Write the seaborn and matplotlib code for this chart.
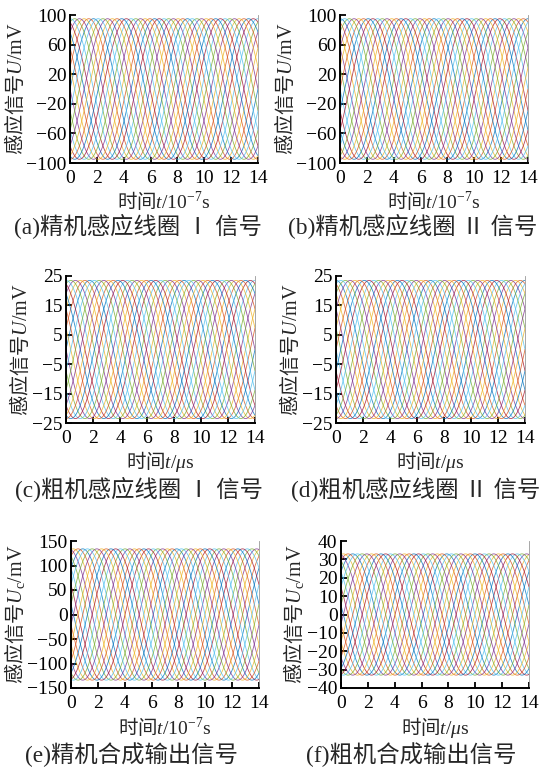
import numpy as np
import pandas as pd
import matplotlib
matplotlib.use("Agg")
import matplotlib.pyplot as plt
import seaborn as sns

# ---------------- data ----------------
time_ticks = [0, 2, 4, 6, 8, 10, 12, 14]
period = 7.0                     # period of every signal (axis units)
phases_deg = [0, 18, 36, 54, 72, 90, 108, 126, 144, 162,
              180, 198, 216, 234, 252, 270, 288, 306, 324, 342]

amp_fine_I = 95.0       # (a) mV
amp_fine_II = 95.0      # (b) mV
amp_coarse_I = 23.5     # (c) mV
amp_coarse_II = 23.5    # (d) mV
amp_fine_sum = 134.0    # (e) mV
amp_coarse_sum = 33.0   # (f) mV

offset_I = 0.0          # coil I phase offset (deg)
offset_II = 90.0        # coil II phase offset (deg)
offset_sum = 45.0       # synthesized signal offset (deg)

yticks_fine = [100, 60, 20, -20, -60, -100]
yticks_coarse = [25, 15, 5, -5, -15, -25]
yticks_fine_sum = [150, 100, 50, 0, -50, -100, -150]
yticks_coarse_sum = [40, 30, 20, 10, 0, -10, -20, -30, -40]

captions = ["(a)精机感应线圈 Ⅰ 信号", "(b)精机感应线圈 Ⅱ 信号",
            "(c)粗机感应线圈 Ⅰ 信号", "(d)粗机感应线圈 Ⅱ 信号",
            "(e)精机合成输出信号", "(f)粗机合成输出信号"]
xlabel_fine = r"$\mathsf{时间}t/10^{-7}\mathrm{s}$"
xlabel_coarse = r"$\mathsf{时间}t/\mu\mathrm{s}$"
ylabel_coil = r"$\mathsf{感应信号}U/\mathrm{mV}$"
ylabel_sum = r"$\mathsf{感应信号}U_{\mathrm{c}}/\mathrm{mV}$"

line_colors = ["#0072BD", "#D95319", "#EDB120", "#7E2F8E",
               "#77AC30", "#4DBEEE", "#A2142F"]

# ---------------- style ----------------
sns.set_theme(style="ticks")
plt.rcParams["font.family"] = ["Liberation Serif", "Noto Sans CJK SC"]
plt.rcParams["mathtext.fontset"] = "custom"
plt.rcParams["mathtext.rm"] = "Liberation Serif"
plt.rcParams["mathtext.it"] = "Liberation Serif:italic"
plt.rcParams["mathtext.bf"] = "Liberation Serif:bold"
plt.rcParams["mathtext.sf"] = "Noto Sans CJK SC"
plt.rcParams["axes.unicode_minus"] = True

W, H = 540, 775
fig = plt.figure(figsize=(W / 100, H / 100), dpi=100)

t = np.linspace(time_ticks[0], time_ticks[-1], 561)

panels = [
    # amp, offset, yticks, xlabel, ylabel, rect(px: l, t, r, b), ylabel_x_px, caption (x, y), xlabel_y
    (amp_fine_I, offset_I, yticks_fine, xlabel_fine, ylabel_coil, (70, 15, 258, 163), 15, (138, 227), 200),
    (amp_fine_II, offset_II, yticks_fine, xlabel_fine, ylabel_coil, (340, 15, 528, 163), 285, (413, 227), 200),
    (amp_coarse_I, offset_I, yticks_coarse, xlabel_coarse, ylabel_coil, (66, 276, 255, 423), 20, (139, 490), 462),
    (amp_coarse_II, offset_II, yticks_coarse, xlabel_coarse, ylabel_coil, (336, 276, 525, 423), 290, (416, 490), 462),
    (amp_fine_sum, offset_sum, yticks_fine_sum, xlabel_fine, ylabel_sum, (71, 541, 259, 688), 15, (132, 755), 727),
    (amp_coarse_sum, offset_sum, yticks_coarse_sum, xlabel_coarse, ylabel_sum, (341, 541, 529, 688), 293, (411, 755), 727),
]

palette = [line_colors[i % len(line_colors)] for i in range(len(phases_deg))]

for (amp, off, yt, xl, yl, rect, ylx, cap_xy, xly), cap in zip(panels, captions):
    l, tp, r, b = rect
    ax = fig.add_axes([l / W, 1 - b / H, (r - l) / W, (b - tp) / H])
    rows = []
    for k, ph in enumerate(phases_deg):
        u = amp * np.sin(2 * np.pi * t / period + np.deg2rad(ph + off))
        rows.append(pd.DataFrame({"t": t, "U": u, "phase": k}))
    df = pd.concat(rows, ignore_index=True)
    sns.lineplot(data=df, x="t", y="U", hue="phase", palette=palette,
                 legend=False, linewidth=0.6, alpha=0.8, estimator=None,
                 sort=False, ax=ax)
    ax.set_xlim(time_ticks[0], time_ticks[-1])
    ax.set_ylim(min(yt), max(yt))
    ax.set_xticks(time_ticks)
    ax.set_yticks(yt)
    ax.tick_params(direction="in", length=4.5, width=1.3, colors="black",
                   labelsize=14, pad=3)
    ax.tick_params(axis="y", pad=2.5)
    ax.tick_params(axis="x", pad=5)
    for s in ["left", "bottom"]:
        ax.spines[s].set_linewidth(1.4)
        ax.spines[s].set_color("black")
    ax.spines["top"].set_visible(False)
    ax.spines["right"].set_linewidth(0.6)
    ax.spines["right"].set_color("#999999")
    ax.set_xlabel(xl, fontsize=14, va="center")
    ax.xaxis.set_label_coords(0.5, (b - xly) / (b - tp))
    ax.set_ylabel(yl, fontsize=14.5, va="center")
    ax.yaxis.set_label_coords((ylx - l) / (r - l), 0.5)
    fig.text(cap_xy[0] / W, 1 - cap_xy[1] / H, cap, fontsize=16.8,
             ha="center", va="center")

fig.savefig("out.png", dpi=100)
